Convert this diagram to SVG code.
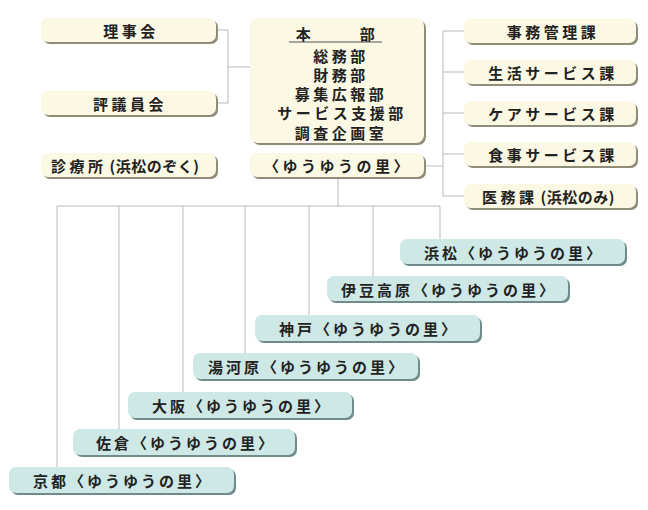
<svg xmlns="http://www.w3.org/2000/svg" width="648" height="510" viewBox="0 0 648 510">
<defs>
<style>
.c rect.s{fill:#8f8c78}
.c rect.b{fill:#fbf8e4}
.t rect.s{fill:#6f8c8a}
.t rect.b{fill:#cde8e5}
text{font-family:"Noto Sans CJK JP","Noto Sans",sans-serif;font-size:15px;font-weight:bold;fill:#222;dominant-baseline:central}
.m{text-anchor:middle;letter-spacing:3.5px}
.tm{text-anchor:middle;letter-spacing:3px}
.ln{fill:none;stroke:#b9b9b9;stroke-width:1}
</style>
</defs>
<rect width="648" height="510" fill="#ffffff"/>
<g id="connectors" class="ln">
<path d="M216 30H228V103H216M228 67H250"/>
<path d="M424 166H443M443 31V196M443 31H464M443 72H464M443 113H464M443 154H464M443 196H464"/>
<path d="M338 177V206M57 206H440M57 206V467M119 206V429M183 206V392M245 206V353M309 206V315M373 206V276M440 206V239"/>
</g>
<g id="rijikai" class="c"><rect class="s" x="43" y="20" width="175" height="24" rx="7"/><rect class="b" x="41" y="18" width="175" height="24" rx="7"/><text class="m" x="131" y="30">理事会</text></g>
<g id="hyogiinkai" class="c"><rect class="s" x="43" y="93" width="175" height="24" rx="7"/><rect class="b" x="41" y="91" width="175" height="24" rx="7"/><text class="m" x="130" y="103">評議員会</text></g>
<g id="shinryojo" class="c"><rect class="s" x="43" y="155" width="175" height="24" rx="7"/><rect class="b" x="41" y="153" width="175" height="24" rx="7"/><text x="51" y="165"><tspan letter-spacing="3.5">診療所</tspan><tspan dx="3" letter-spacing="0.5">(浜松のぞく)</tspan></text></g>
<g id="honbu" class="c"><rect class="s" x="252" y="20" width="174" height="125" rx="8"/><rect class="b" x="250" y="18" width="174" height="125" rx="8"/>
<text class="m" x="305" y="33">本</text><text class="m" x="369" y="33">部</text>
<line x1="289" y1="42" x2="382" y2="42" stroke="#555" stroke-width="1"/>
<text class="m" x="341" y="55">総務部</text>
<text class="m" x="341" y="74">財務部</text>
<text class="m" x="341" y="93">募集広報部</text>
<text class="m" x="342" y="112">サービス支援部</text>
<text class="m" x="341" y="132">調査企画室</text></g>
<g id="honbu-sato" class="c"><rect class="s" x="252" y="155" width="174" height="24" rx="7"/><rect class="b" x="250" y="153" width="174" height="24" rx="7"/><text class="m" x="338" y="165">〈ゆうゆうの里〉</text></g>
<g id="jimukanri" class="c"><rect class="s" x="466" y="21" width="172" height="24" rx="7"/><rect class="b" x="464" y="19" width="172" height="24" rx="7"/><text class="m" x="553" y="31">事務管理課</text></g>
<g id="seikatsu" class="c"><rect class="s" x="466" y="62" width="172" height="24" rx="7"/><rect class="b" x="464" y="60" width="172" height="24" rx="7"/><text class="m" x="553" y="72">生活サービス課</text></g>
<g id="care" class="c"><rect class="s" x="466" y="103" width="172" height="24" rx="7"/><rect class="b" x="464" y="101" width="172" height="24" rx="7"/><text class="m" x="553" y="113">ケアサービス課</text></g>
<g id="shokuji" class="c"><rect class="s" x="466" y="144" width="172" height="24" rx="7"/><rect class="b" x="464" y="142" width="172" height="24" rx="7"/><text class="m" x="553" y="154">食事サービス課</text></g>
<g id="imuka" class="c"><rect class="s" x="466" y="186" width="172" height="24" rx="7"/><rect class="b" x="464" y="184" width="172" height="24" rx="7"/><text x="482" y="196"><tspan letter-spacing="3.5">医務課</tspan><tspan dx="3" letter-spacing="0.5">(浜松のみ)</tspan></text></g>
<g id="hamamatsu" class="t"><rect class="s" x="402" y="241" width="225" height="25" rx="7"/><rect class="b" x="400" y="239" width="225" height="25" rx="7"/><text class="tm" x="514" y="252">浜松〈ゆうゆうの里〉</text></g>
<g id="izukogen" class="t"><rect class="s" x="329" y="278" width="241" height="25" rx="7"/><rect class="b" x="327" y="276" width="241" height="25" rx="7"/><text class="tm" x="449" y="289">伊豆高原〈ゆうゆうの里〉</text></g>
<g id="kobe" class="t"><rect class="s" x="257" y="317" width="225" height="26" rx="7"/><rect class="b" x="255" y="315" width="225" height="26" rx="7"/><text class="tm" x="369" y="328">神戸〈ゆうゆうの里〉</text></g>
<g id="yugawara" class="t"><rect class="s" x="195" y="355" width="225" height="26" rx="7"/><rect class="b" x="193" y="353" width="225" height="26" rx="7"/><text class="tm" x="307" y="366">湯河原〈ゆうゆうの里〉</text></g>
<g id="osaka" class="t"><rect class="s" x="130" y="394" width="224" height="26" rx="7"/><rect class="b" x="128" y="392" width="224" height="26" rx="7"/><text class="tm" x="242" y="405">大阪〈ゆうゆうの里〉</text></g>
<g id="sakura" class="t"><rect class="s" x="75" y="431" width="222" height="26" rx="7"/><rect class="b" x="73" y="429" width="222" height="26" rx="7"/><text class="tm" x="186" y="442">佐倉〈ゆうゆうの里〉</text></g>
<g id="kyoto" class="t"><rect class="s" x="11" y="469" width="225" height="26" rx="7"/><rect class="b" x="9" y="467" width="225" height="26" rx="7"/><text class="tm" x="123" y="480">京都〈ゆうゆうの里〉</text></g>
</svg>
